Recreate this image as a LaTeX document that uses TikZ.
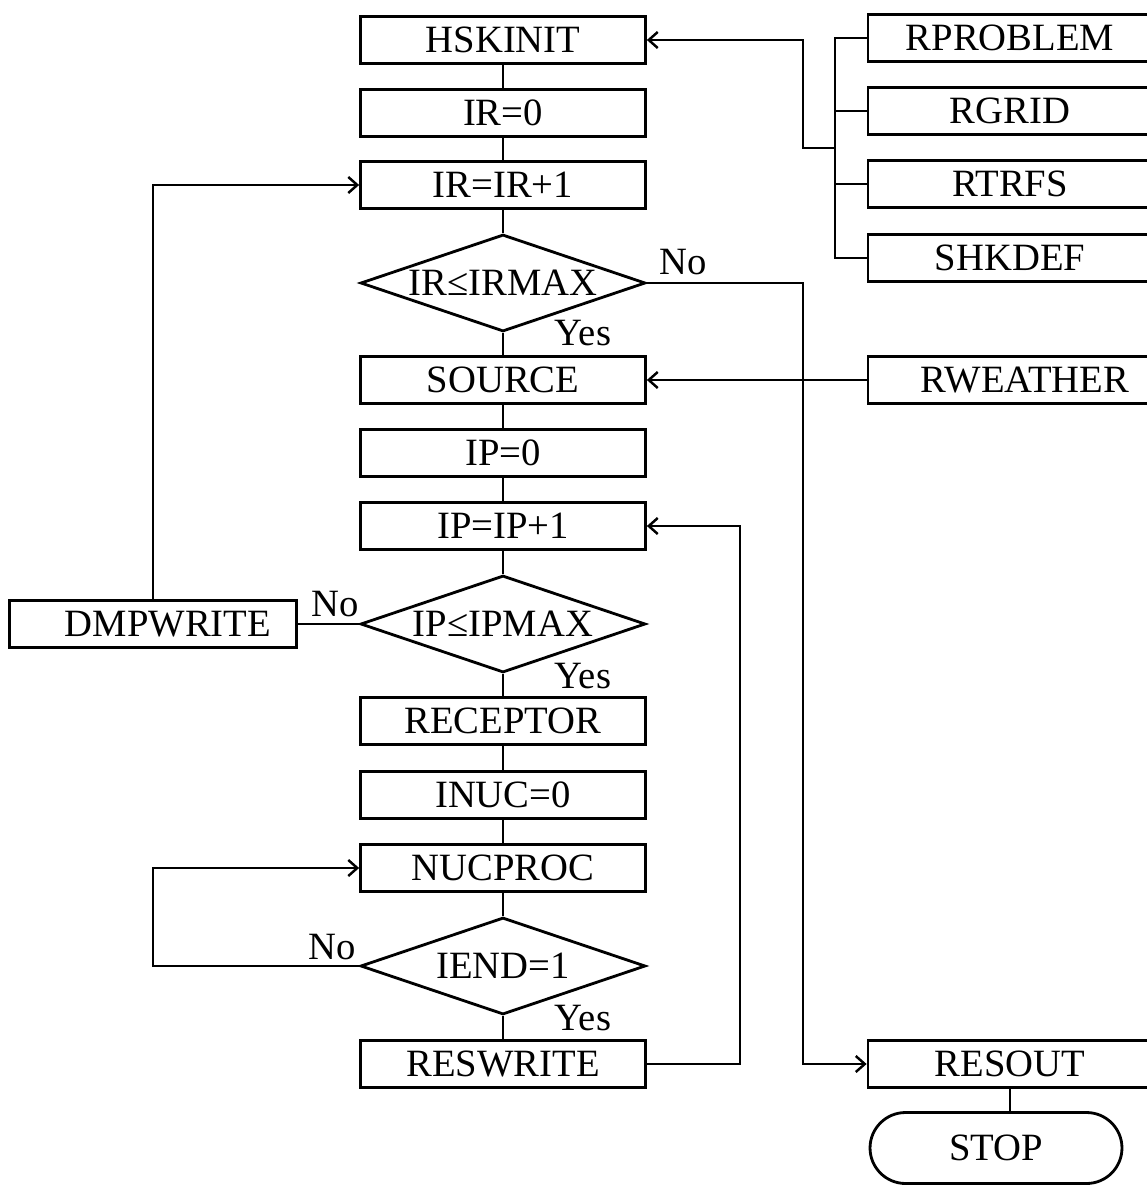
\documentclass[tikz,border=0pt]{standalone}
\usepackage{fontspec}
\setmainfont{Liberation Serif}
\usetikzlibrary{arrows.meta,shapes.geometric,shapes.misc}

\begin{document}
\begin{tikzpicture}[
    x=0.02cm, y=-0.02cm,
    line width=1.6pt,
    font=\fontsize{22}{26}\selectfont,
    arr/.style={-{Straight Barb[length=1.8mm,width=3.2mm,line width=1.4pt]}},
    procbox/.style={draw, rectangle, minimum width=5.7cm, minimum height=0.94cm, inner sep=0pt},
    sidebox/.style={procbox, minimum width=5.68cm},
    decision/.style={draw, diamond, minimum width=5.7cm, minimum height=1.94cm, inner sep=0pt, aspect=3},
    endcap/.style={draw, rounded rectangle, minimum width=5.04cm, minimum height=1.42cm, inner sep=0pt},
    lbl/.style={inner sep=0pt}
]
    \useasboundingbox (0,0) rectangle (1146,1186);

    % --- MAIN COLUMN ---
    \node[procbox] (hskinit) at (503,40) {HSKINIT};
    \node[procbox] (irzero) at (503,113) {IR=0};
    \node[procbox] (irinc) at (503,185) {IR=IR+1};
    \node[decision] (irtest) at (503,283) {IR≤IRMAX};
    \node[procbox] (source) at (503,380) {SOURCE};
    \node[procbox] (ipzero) at (503,453) {IP=0};
    \node[procbox] (ipinc) at (503,526) {IP=IP+1};
    \node[decision] (iptest) at (503,624) {IP≤IPMAX};
    \node[procbox] (receptor) at (503,721) {RECEPTOR};
    \node[procbox] (inuczero) at (503,795) {INUC=0};
    \node[procbox] (nucproc) at (503,868) {NUCPROC};
    \node[decision] (iendtest) at (503,966) {IEND=1};
    \node[procbox] (reswrite) at (503,1064) {RESWRITE};

    % --- LEFT ---
    \node[procbox, minimum width=5.74cm] (dmpwrite) at (153,624) {\hspace{0.6cm}DMPWRITE};

    % --- RIGHT COLUMN ---
    \node[sidebox] (rproblem) at (1010,38) {RPROBLEM};
    \node[sidebox] (rgrid) at (1010,111) {RGRID};
    \node[sidebox] (rtrfs) at (1010,184) {RTRFS};
    \node[sidebox] (shkdef) at (1010,258) {SHKDEF};
    \node[sidebox] (rweather) at (1010,380) {\hspace{0.6cm}RWEATHER};
    \node[sidebox] (resout) at (1010,1064) {RESOUT};
    \node[endcap] (stop) at (996,1148) {STOP};

    % --- LABELS ---
    \node[lbl] (irno) at (683,262) {No};
    \node[lbl] (iryes) at (583,333) {Yes};
    \node[lbl] (ipno) at (335,604) {No};
    \node[lbl] (ipyes) at (583,676) {Yes};
    \node[lbl] (iendno) at (332,947) {No};
    \node[lbl] (iendyes) at (583,1018) {Yes};

    % --- HELPER COORDINATES ---
    \coordinate (bkt) at (835,0);
    \coordinate (nbus) at (803,0);
    \coordinate (rbus) at (740,0);
    \coordinate (lbus) at (153,0);
    \coordinate (join) at (835,148);
    \coordinate (jbend) at (803,148);

    % --- MAIN FLOW ---
    \draw (hskinit) -- (irzero);
    \draw (irzero) -- (irinc);
    \draw (irinc) -- (irtest);
    \draw (irtest) -- (source);
    \draw (source) -- (ipzero);
    \draw (ipzero) -- (ipinc);
    \draw (ipinc) -- (iptest);
    \draw (iptest) -- (receptor);
    \draw (receptor) -- (inuczero);
    \draw (inuczero) -- (nucproc);
    \draw (nucproc) -- (iendtest);
    \draw (iendtest) -- (reswrite);

    % --- LOOPS ---
    \draw[arr] (reswrite.east) -| (rbus |- ipinc.east) -- (ipinc.east);
    \draw[arr] (iendtest.west) -| (lbus |- nucproc.west) -- (nucproc.west);
    \draw (iptest.west) -- (dmpwrite.east);
    \draw[arr] (dmpwrite.north) |- (irinc.west);
    \draw[arr] (irtest.east) -| (nbus |- resout.west) -- (resout.west);

    % --- INPUT ROUTINES ---
    \draw (rproblem.west) -| (bkt |- shkdef.west) -- (shkdef.west);
    \draw (rgrid.west) -- (bkt |- rgrid.west);
    \draw (rtrfs.west) -- (bkt |- rtrfs.west);
    \draw[arr] (join) -- (jbend) |- (hskinit.east);
    \draw[arr] (rweather.west) -- (source.east);
    \draw (resout.south) -- (resout.south |- stop.north);

\end{tikzpicture}
\end{document}
